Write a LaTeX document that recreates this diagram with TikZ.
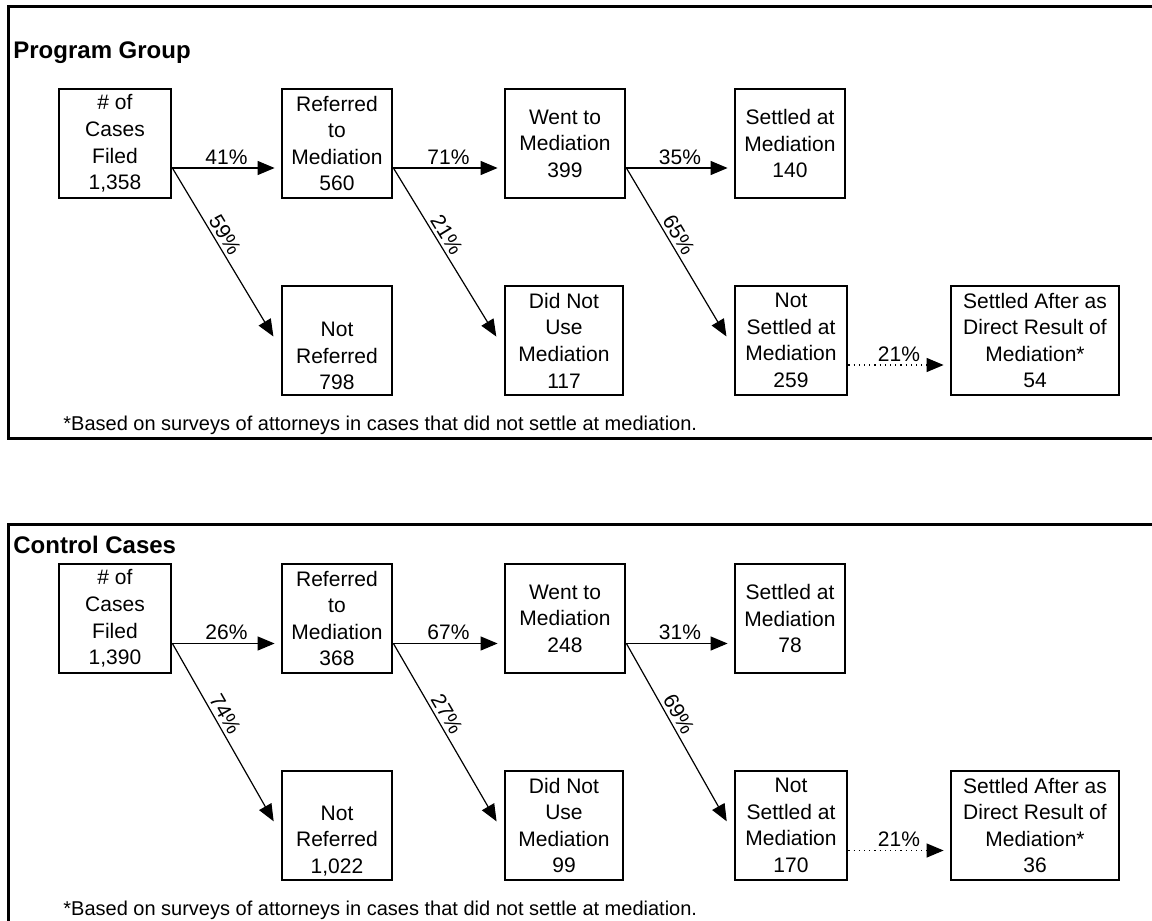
\documentclass[tikz,border=0pt]{standalone}
\usepackage{fontspec}
\setmainfont{Liberation Sans}
\usetikzlibrary{arrows.meta}

\tikzset{
  box/.style={draw, line width=1.4pt, minimum width=55pt, minimum height=54.5pt,
    inner sep=0pt, align=center, font=\fontsize{10.5}{13.3}\selectfont},
  flow/.style={line width=0.6pt, -{Triangle[length=8.5pt,width=7pt]}, shorten >=3pt},
  slant/.style={flow, shorten >=7pt},
  pct/.style={font=\fontsize{10.5}{12}\selectfont, inner sep=1.5pt},
  frame/.style={line width=1.5pt},
  heading/.style={font=\fontsize{12}{14}\selectfont\bfseries, anchor=base west, inner sep=0pt},
  note/.style={font=\fontsize{10}{12}\selectfont, anchor=west, inner sep=0pt},
}

\begin{document}
\begin{tikzpicture}[x=0.5pt, y=-0.5pt]
\useasboundingbox (0,0) rectangle (1152,921);

% Program group
\draw[frame] (1152,6) -- (8,6) -- (8,438) -- (1152,438);
\node[heading] (ptitle) at (13,58) {Program Group};

\node[box, minimum width=56pt] (pfiled)    at (115,143.5) {\# of\\Cases\\Filed\\1,358};
\node[box]                     (preferred) at (337,143.5) {Referred\\to\\Mediation\\560};
\node[box, minimum width=60pt] (pwent)     at (565,143.5) {Went to\\Mediation\\399};
\node[box]                     (psettled)  at (790,143.5) {Settled at\\Mediation\\140};

\node[box]                     (pnotref)   at (337,340.5) {\strut\\Not\\Referred\\798};
\node[box, minimum width=59pt] (pnotuse)   at (564,340.5) {Did Not\\Use\\Mediation\\117};
\node[box, minimum width=56pt] (pnotset)   at (791,340.5) {Not\\Settled at\\Mediation\\259};
\node[box, minimum width=84pt] (pafter)    at (1035,340.5) {Settled After as\\Direct Result of\\Mediation*\\54};

\draw[flow] ([yshift=-12.25pt]pfiled.east) -- ([yshift=-12.25pt]preferred.west) node[pct, midway, above] {41\%};
\draw[flow] ([yshift=-12.25pt]preferred.east) -- ([yshift=-12.25pt]pwent.west) node[pct, midway, above] {71\%};
\draw[flow] ([yshift=-12.25pt]pwent.east) -- ([yshift=-12.25pt]psettled.west) node[pct, midway, above] {35\%};

\draw[slant] ([yshift=-12.25pt]pfiled.east) -- ([yshift=-4pt]pnotref.west) node[pct, pos=0.4, sloped, above] {59\%};
\draw[slant] ([yshift=-12.25pt]preferred.east) -- ([yshift=-4pt]pnotuse.west) node[pct, pos=0.4, sloped, above] {21\%};
\draw[slant] ([yshift=-12.25pt]pwent.east) -- ([yshift=-4pt]pnotset.west) node[pct, pos=0.4, sloped, above] {65\%};

\draw[flow, dotted] ([yshift=-12.25pt]pnotset.east) -- ([yshift=-12.25pt]pafter.west) node[pct, midway, above] {21\%};

\node[note] (pnote) at (63,425) {*Based on surveys of attorneys in cases that did not settle at mediation.};

% Control cases
\draw[frame] (1152,524) -- (8,524) -- (8,921);
\node[heading] (ctitle) at (13,553) {Control Cases};

\node[box, minimum width=56pt] (cfiled)    at (115,618.5) {\# of\\Cases\\Filed\\1,390};
\node[box]                     (creferred) at (337,618.5) {Referred\\to\\Mediation\\368};
\node[box, minimum width=60pt] (cwent)     at (565,618.5) {Went to\\Mediation\\248};
\node[box]                     (csettled)  at (790,618.5) {Settled at\\Mediation\\78};

\node[box]                     (cnotref)   at (337,825.5) {\strut\\Not\\Referred\\1,022};
\node[box, minimum width=59pt] (cnotuse)   at (564,825.5) {Did Not\\Use\\Mediation\\99};
\node[box, minimum width=56pt] (cnotset)   at (791,825.5) {Not\\Settled at\\Mediation\\170};
\node[box, minimum width=84pt] (cafter)    at (1035,825.5) {Settled After as\\Direct Result of\\Mediation*\\36};

\draw[flow] ([yshift=-12.5pt]cfiled.east) -- ([yshift=-12.5pt]creferred.west) node[pct, midway, above] {26\%};
\draw[flow] ([yshift=-12.5pt]creferred.east) -- ([yshift=-12.5pt]cwent.west) node[pct, midway, above] {67\%};
\draw[flow] ([yshift=-12.5pt]cwent.east) -- ([yshift=-12.5pt]csettled.west) node[pct, midway, above] {31\%};

\draw[slant] ([yshift=-12.5pt]cfiled.east) -- ([yshift=-4pt]cnotref.west) node[pct, pos=0.4, sloped, above] {74\%};
\draw[slant] ([yshift=-12.5pt]creferred.east) -- ([yshift=-4pt]cnotuse.west) node[pct, pos=0.4, sloped, above] {27\%};
\draw[slant] ([yshift=-12.5pt]cwent.east) -- ([yshift=-4pt]cnotset.west) node[pct, pos=0.4, sloped, above] {69\%};

\draw[flow, dotted] ([yshift=-12.5pt]cnotset.east) -- ([yshift=-12.5pt]cafter.west) node[pct, midway, above] {21\%};

\node[note] (cnote) at (63,910) {*Based on surveys of attorneys in cases that did not settle at mediation.};

\end{tikzpicture}
\end{document}
